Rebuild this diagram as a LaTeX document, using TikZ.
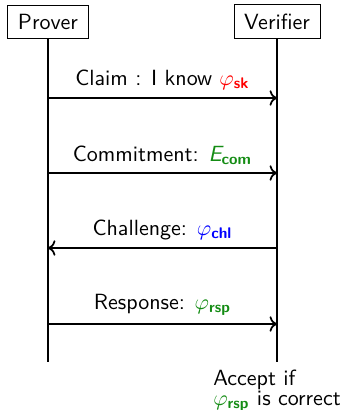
\documentclass[tikz,border=0pt]{standalone}
\usepackage{amsmath}
\usepackage{xcolor}
\usepackage{tikz}
\usetikzlibrary{arrows.meta, positioning, calc}
\definecolor{keygreen}{RGB}{20,140,20}

\begin{document}
\begin{tikzpicture}[x=0.4545pt, y=-0.4545pt, font=\sffamily,
    party/.style={draw, inner xsep=4.6pt, inner ysep=4pt},
    lifeline/.style={thick},
    msg/.style={thick, ->}]
\useasboundingbox (0,0) rectangle (343,410);
% Define message arrows
\def\exchange#1#2#3#4{
    % #1 = y position, #2 = sender, #3 = receiver, #4 = label
    \coordinate (#2-#1) at (#2 |- 0,#1);
    \coordinate (#3-#1) at (#3 |- 0,#1);
    \draw[msg] (#2-#1) -- node[above] {#4} (#3-#1);
}
% Parties and lifelines
\node[party] (prover) at (48,21.5) {Prover};
\node[party] (verifier) at (277,21.5) {Verifier};
\coordinate (prover end) at (prover |- 0,362);
\coordinate (verifier end) at (verifier |- 0,362);
\draw[lifeline] (prover) -- (prover end);
\draw[lifeline] (verifier) -- (verifier end);

% Messages
\exchange{98}{prover}{verifier}{Claim : I know \textcolor{red}{$\varphi_{\textbf{sk}}$}}
\exchange{173}{prover}{verifier}{Commitment: \textcolor{keygreen}{$\textit{E}_{\textbf{com}}$}}
\exchange{248}{verifier}{prover}{Challenge: \textcolor{blue}{$\varphi_{\textbf{chl}}$}}
\exchange{324}{prover}{verifier}{Response: \textcolor{keygreen}{$\varphi_{\textbf{rsp}}$}}

% Verdict
\node[below, align=left] (verdict) at (verifier end) {Accept if\\[-3pt]\textcolor{keygreen}{$\varphi_{\textbf{rsp}}$} is correct};
\end{tikzpicture}
\end{document}
